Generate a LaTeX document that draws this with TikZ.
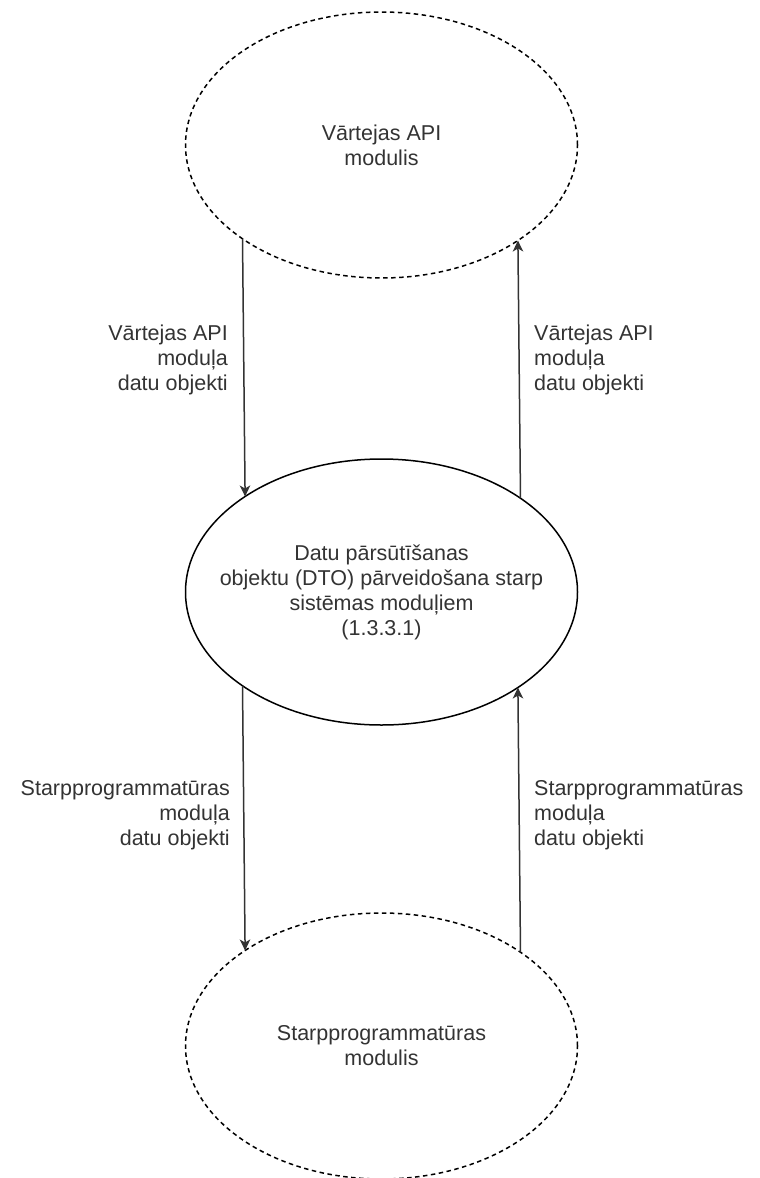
\documentclass[tikz,border=0pt]{standalone}
\usepackage{fontspec}
\setmainfont{Liberation Sans}
\usetikzlibrary{arrows.meta,shapes.geometric}
\definecolor{ink}{HTML}{333333}
\begin{document}
\begin{tikzpicture}[x=1pt,y=-1pt,
  proc/.style={ellipse,draw=black,line width=1.5pt,minimum width=392pt,minimum height=266pt,inner sep=0pt,outer sep=0pt},
  extproc/.style={proc,dash pattern=on 4.5pt off 3.5pt},
  txt/.style={font=\fontsize{21.5}{25}\selectfont,text=ink,inner sep=0pt,align=center},
  lblL/.style={txt,anchor=east,align=right},
  lblR/.style={txt,anchor=west,align=left},
  flow/.style={draw=ink,line width=1.5pt,-{Stealth[length=11pt,width=10.5pt,inset=3pt]}}]
\useasboundingbox (0,0) rectangle (760,1178);

% processes
\node[extproc] (gw)  at (381.5,145) {};
\node[proc]    (dto) at (381.5,592) {};
\node[extproc] (mw)  at (381.5,1046) {};

\node[txt] (gwtxt)  at (gw.center)  {Vārtejas API\\modulis};
\node[txt] (dtotxt) at (dto.center) {Datu pārsūtīšanas\\objektu (DTO) pārveidošana starp\\sistēmas moduļiem\\(1.3.3.1)};
\node[txt] (mwtxt)  at (mw.center)  {Starpprogrammatūras\\modulis};

% data flows
\draw[flow] (gw.214.2) -- (dto.145.8);
\draw[flow] (dto.34.2) -- (gw.325.8);
\draw[flow] (dto.214.2) -- (mw.145.8);
\draw[flow] (mw.34.2) -- (dto.325.8);

% flow labels
\node[lblL] (f1) at (228,360) {Vārtejas API\\moduļa\\datu objekti};
\node[lblR] (f2) at (534,360) {Vārtejas API\\moduļa\\datu objekti};
\node[lblL] (f3) at (230,815) {Starpprogrammatūras\\moduļa\\datu objekti};
\node[lblR] (f4) at (534,815) {Starpprogrammatūras\\moduļa\\datu objekti};
\end{tikzpicture}
\end{document}
